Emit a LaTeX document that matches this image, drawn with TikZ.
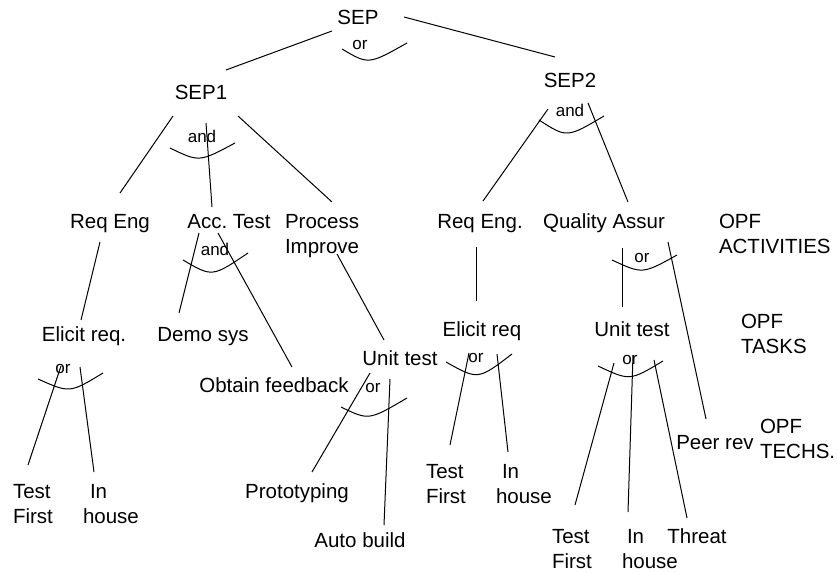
\documentclass[tikz,border=0pt]{standalone}
\usepackage{fontspec}
\setmainfont{Liberation Sans}
\frenchspacing
\begin{document}
\begin{tikzpicture}[x=1pt,y=-1pt,
  lbl/.style={font=\fontsize{20.5}{25}\selectfont, inner sep=0pt, outer sep=0pt, anchor=base},
  lblw/.style={lbl, anchor=base west},
  gate/.style={font=\fontsize{17}{20}\selectfont, inner sep=0pt, outer sep=0pt, anchor=base},
  link/.style={line width=1pt},
  gatearc/.style={line width=1pt}]
\useasboundingbox (0,0) rectangle (837,572);

% process tree labels
\node[lbl] (sep) at (358,25) {SEP};
\node[lbl] (sepA) at (201,100) {SEP1};
\node[lbl] (sepB) at (570,88) {SEP2};

\node[lbl] (reqA) at (110,228) {Req Eng};
\node[lbl] (acc) at (229,228) {Acc. Test};
\node[lblw] (proc) at (285,228) {\begin{tabular}[t]{@{}l@{}}Process\\Improve\end{tabular}};
\node[lbl] (reqB) at (480,228) {Req Eng.};
\node[lbl] (qa) at (604,228) {Quality Assur};
\node[lblw] (opfA) at (719,228) {\begin{tabular}[t]{@{}l@{}}OPF\\ACTIVITIES\end{tabular}};

\node[lbl] (eliA) at (84,341) {Elicit req.};
\node[lbl] (demo) at (203,341) {Demo sys};
\node[lbl] (eliB) at (482,336) {Elicit req};
\node[lbl] (unitB) at (632,336) {Unit test};
\node[lblw] (opfB) at (741,328) {\begin{tabular}[t]{@{}l@{}}OPF\\TASKS\end{tabular}};
\node[lbl] (obtain) at (274,392) {Obtain feedback};
\node[lbl] (unitA) at (400,365) {Unit test};

\node[lblw] (tfA) at (13,498) {\begin{tabular}[t]{@{}l@{}}Test\\First\end{tabular}};
\node[lblw] (ihA) at (83,498) {\begin{tabular}[t]{@{}l@{}}\hspace{7pt}In\\house\end{tabular}};
\node[lbl] (proto) at (297,498) {Prototyping};
\node[lbl] (auto) at (360,547) {Auto build};
\node[lblw] (tfB) at (426,478) {\begin{tabular}[t]{@{}l@{}}Test\\First\end{tabular}};
\node[lblw] (ihB) at (496,478) {\begin{tabular}[t]{@{}l@{}}\hspace{6pt}In\\house\end{tabular}};
\node[lbl] (peer) at (715,449) {Peer rev};
\node[lblw] (opfC) at (760,433) {\begin{tabular}[t]{@{}l@{}}OPF\\TECHS.\end{tabular}};
\node[lblw] (tfC) at (552,543) {\begin{tabular}[t]{@{}l@{}}Test\\First\end{tabular}};
\node[lblw] (ihC) at (622,543) {\begin{tabular}[t]{@{}l@{}}\hspace{5pt}In\\house\end{tabular}};
\node[lbl] (threat) at (697,543) {Threat};

% decomposition gate labels
\node[gate] (g0) at (360,50) {or};
\node[gate] (g1) at (202,143) {and};
\node[gate] (g2) at (570,117) {and};
\node[gate] (g3) at (215,255) {and};
\node[gate] (g4) at (642,262) {or};
\node[gate] (g5) at (63,373) {or};
\node[gate] (g6) at (373,392) {or};
\node[gate] (g7) at (476,362) {or};
\node[gate] (g8) at (630,364) {or};

% gate arcs
\draw[gatearc] (342,49) .. controls (368.5,64.7) .. (407,43);
\draw[gatearc] (170,148) .. controls (199.2,162.2) .. (235,143);
\draw[gatearc] (539,120) .. controls (566.8,138) .. (604,116);
\draw[gatearc] (183,260) .. controls (212.2,277.2) .. (248,253);
\draw[gatearc] (612,260) .. controls (642.5,274.2) .. (677,255);
\draw[gatearc] (38,379) .. controls (69.8,393.2) .. (103,373);
\draw[gatearc] (341,407) .. controls (368.7,420.5) .. (407,398);
\draw[gatearc] (446,362) .. controls (478,380) .. (512,354);
\draw[gatearc] (598,366) .. controls (629.8,381) .. (663,361);

% decomposition links
\draw[link] ([shift={(-26,6)}]sep.base) -- ([shift={(25,-30)}]sepA.base);
\draw[link] ([shift={(46,-8)}]sep.base) -- ([shift={(-15,-31)}]sepB.base);
\draw[link] ([shift={(-28,16)}]sepA.base) -- ([shift={(10,-35)}]reqA.base);
\draw[link] ([shift={(5,23)}]sepA.base) -- ([shift={(-17,-21)}]acc.base);
\draw[link] ([shift={(37,16)}]sepA.base) -- ([shift={(47,-26)}]proc.base west);
\draw[link] ([shift={(-22,21)}]sepB.base) -- ([shift={(3,-27)}]reqB.base);
\draw[link] ([shift={(18,15)}]sepB.base) -- ([shift={(24,-26)}]qa.base);
\draw[link] ([shift={(-10,14)}]reqA.base) -- ([shift={(-3,-21)}]eliA.base);
\draw[link] ([shift={(-30,5)}]acc.base) -- ([shift={(-24,-28)}]demo.base);
\draw[link] ([shift={(-11,5)}]acc.base) -- ([shift={(18,-25)}]obtain.base);
\draw[link] ([shift={(52,26)}]proc.base west) -- ([shift={(-16,-25)}]unitA.base);
\draw[link] ([shift={(-4,19)}]reqB.base) -- ([shift={(-6,-35)}]eliB.base);
\draw[link] ([shift={(18,20)}]qa.base) -- ([shift={(-10,-29)}]unitB.base);
\draw[link] ([shift={(64,14)}]qa.base) -- ([shift={(-9,-30)}]peer.base);
\draw[link] ([shift={(-23,25)}]eliA.base) -- ([shift={(15,-33)}]tfA.base west);
\draw[link] ([shift={(-4,26)}]eliA.base) -- ([shift={(11,-26)}]ihA.base west);
\draw[link] ([shift={(-30,8)}]unitA.base) -- ([shift={(15,-26)}]proto.base);
\draw[link] ([shift={(-10,14)}]unitA.base) -- ([shift={(24,-22)}]auto.base);
\draw[link] ([shift={(-13,17)}]eliB.base) -- ([shift={(24,-33)}]tfB.base west);
\draw[link] ([shift={(15,18)}]eliB.base) -- ([shift={(12,-26)}]ihB.base west);
\draw[link] ([shift={(-18,27)}]unitB.base) -- ([shift={(23,-38)}]tfC.base west);
\draw[link] ([shift={(1,19)}]unitB.base) -- ([shift={(6,-31)}]ihC.base west);
\draw[link] ([shift={(22,24)}]unitB.base) -- ([shift={(-10,-25)}]threat.base);
\end{tikzpicture}
\end{document}
